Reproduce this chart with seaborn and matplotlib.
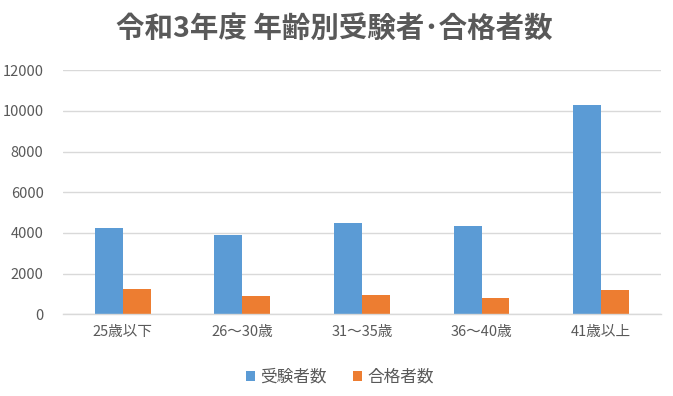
import matplotlib
matplotlib.use("Agg")
import matplotlib.pyplot as plt
import seaborn as sns
import pandas as pd
from matplotlib.patches import Patch

categories = ["25歳以下", "26～30歳", "31～35歳", "36～40歳", "41歳以上"]
series_names = ["受験者数", "合格者数"]
examinees = [4250, 3900, 4490, 4340, 10300]
passers = [1245, 900, 950, 800, 1195]
colors = ["#5B9BD5", "#ED7D31"]

df = pd.DataFrame({
    "cat": categories * 2,
    "series": [series_names[0]] * len(categories) + [series_names[1]] * len(categories),
    "val": examinees + passers,
})

sns.set_theme(style="white")
plt.rcParams["font.family"] = ["Noto Sans CJK JP", "DejaVu Sans"]

fig = plt.figure(figsize=(6.73, 3.96), dpi=100)
ax = fig.add_axes([0.0936, 0.2063, 0.8884, 0.6162])

sns.barplot(data=df, x="cat", y="val", hue="series", palette=colors,
            width=0.468, ax=ax, legend=False, saturation=1, edgecolor="none")

ax.set_ylim(0, 12000)
ax.set_yticks(range(0, 12001, 2000))
ax.set_xlim(-0.5, 4.5)
ax.yaxis.grid(True, color="#D9D9D9", linewidth=1)
ax.set_axisbelow(True)
for s in ["top", "right", "left"]:
    ax.spines[s].set_visible(False)
ax.spines["bottom"].set_color("#D9D9D9")
ax.spines["bottom"].set_linewidth(1)
ax.set_xlabel("")
ax.set_ylabel("")
ax.tick_params(axis="both", length=0, labelsize=10.5, labelcolor="#595959")
ax.tick_params(axis="y", pad=14)
ax.tick_params(axis="x", pad=8)

fig.text(0.497, 0.928, "令和3年度 年齢別受験者･合格者数", ha="center", va="center",
         fontsize=20.5, fontweight="bold", color="#595959")

handles = [Patch(facecolor=c, edgecolor="none") for c in colors]
fig.legend(handles, series_names, loc="center", bbox_to_anchor=(0.505, 0.048),
           ncol=2, frameon=False, fontsize=12, handlelength=0.55, handleheight=0.55,
           handletextpad=0.3, columnspacing=1.6, labelcolor="#595959")

fig.savefig("out.png", dpi=100, facecolor="white")
